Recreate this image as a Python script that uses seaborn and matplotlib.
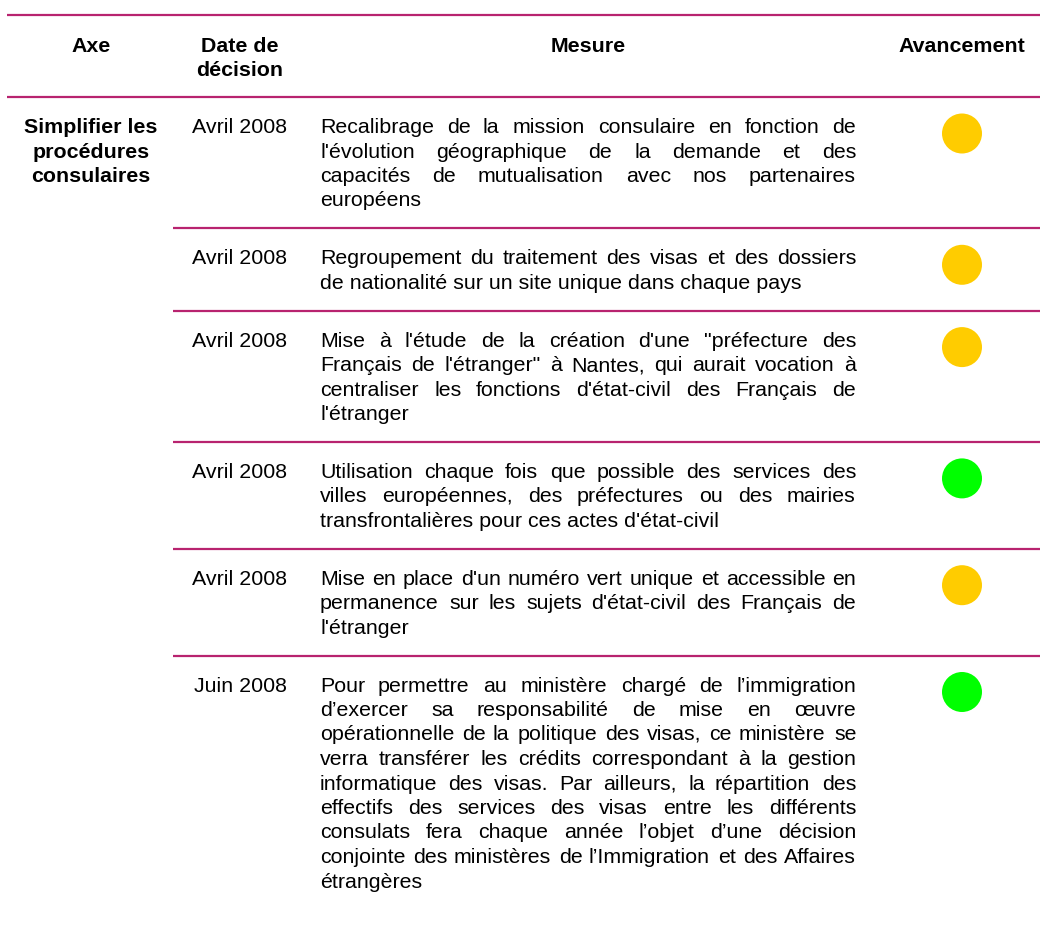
import matplotlib
matplotlib.use("Agg")
import matplotlib.pyplot as plt
import seaborn as sns
import pandas as pd

# ---------------- data ----------------
headers = ["Axe", "Date de\ndécision", "Mesure", "Avancement"]
axe_lines = ["Simplifier les", "procédures", "consulaires"]
dates = ["Avril 2008", "Avril 2008", "Avril 2008", "Avril 2008", "Avril 2008", "Juin 2008"]
measures = [
    ["Recalibrage de la mission consulaire en fonction de",
     "l'évolution géographique de la demande et des",
     "capacités de mutualisation avec nos partenaires",
     "européens"],
    ["Regroupement du traitement des visas et des dossiers",
     "de nationalité sur un site unique dans chaque pays"],
    ["Mise à l'étude de la création d'une \"préfecture des",
     "Français de l'étranger\" à Nantes, qui aurait vocation à",
     "centraliser les fonctions d'état-civil des Français de",
     "l'étranger"],
    ["Utilisation chaque fois que possible des services des",
     "villes européennes, des préfectures ou des mairies",
     "transfrontalières pour ces actes d'état-civil"],
    ["Mise en place d'un numéro vert unique et accessible en",
     "permanence sur les sujets d'état-civil des Français de",
     "l'étranger"],
    ["Pour permettre au ministère chargé de l’immigration",
     "d’exercer sa responsabilité de mise en œuvre",
     "opérationnelle de la politique des visas, ce ministère se",
     "verra transférer les crédits correspondant à la gestion",
     "informatique des visas. Par ailleurs, la répartition des",
     "effectifs des services des visas entre les différents",
     "consulats fera chaque année l’objet d’une décision",
     "conjointe des ministères de l’Immigration et des Affaires",
     "étrangères"],
]
status = ["En cours", "En cours", "En cours", "Réalisé", "En cours", "Réalisé"]
status_colors = {"En cours": "#FFCC00", "Réalisé": "#00FF00"}

# ---------------- style ----------------
sns.set_theme(style="white")
plt.rcParams["font.family"] = ["Liberation Sans", "DejaVu Sans"]
plt.rcParams["text.color"] = "black"

W, H = 1040, 940
fig = plt.figure(figsize=(W / 100, H / 100), dpi=100)
ax = fig.add_axes([0, 0, 1, 1])
ax.set_xlim(0, W)
ax.set_ylim(H, 0)
ax.axis("off")

FS = 15.4
TXT = "#000000"
LINE_COLOR = "#B8236F"
LH = 24.5
TOP_PAD = 29
BOT_PAD = 28.8
BASE_OFF = 7

col_axe, col_date, col_mes_l, col_mes_r, col_av = 91, 240, 320, 856, 962
header_top, header_bot = 15, 97

renderer = fig.canvas.get_renderer()

# header lines
ax.hlines([header_top, header_bot], 7, W, color=LINE_COLOR, lw=1.6)

# headers
hdr_y = 45 + BASE_OFF
ax.text(col_axe, hdr_y, headers[0], ha="center", va="baseline", fontsize=FS, fontweight="bold", color=TXT)
for k, part in enumerate(headers[1].split("\n")):
    ax.text(col_date, round(hdr_y + k * 23.5), part, ha="center", va="baseline", fontsize=FS,
            fontweight="bold", color=TXT)
ax.text((col_mes_l + col_mes_r) / 2, hdr_y, headers[2], ha="center", va="baseline", fontsize=FS,
        fontweight="bold", color=TXT)
ax.text(col_av, hdr_y, headers[3], ha="center", va="baseline", fontsize=FS, fontweight="bold", color=TXT)


def justified_line(y, line):
    words = line.split(" ")
    arts = [ax.text(0, y, w, ha="left", va="baseline", fontsize=FS, color=TXT) for w in words]
    widths = [a.get_window_extent(renderer).width for a in arts]
    gap = (col_mes_r - col_mes_l - sum(widths)) / max(len(words) - 1, 1)
    x = col_mes_l
    for a, w in zip(arts, widths):
        a.set_x(round(x))
        x += w + gap


# rows
row_top = header_bot
circle_rows = []
for i, (d, lines) in enumerate(zip(dates, measures)):
    first = row_top + TOP_PAD + BASE_OFF
    if i == 0:
        for k, t in enumerate(axe_lines):
            ax.text(col_axe, round(first + k * LH), t, ha="center", va="baseline",
                    fontsize=FS, fontweight="bold", color=TXT)
    ax.text(col_date, round(first), d, ha="center", va="baseline", fontsize=FS, color=TXT)
    for k, line in enumerate(lines):
        y = round(first + k * LH)
        if k < len(lines) - 1:
            justified_line(y, line)
        else:
            ax.text(col_mes_l, y, line, ha="left", va="baseline", fontsize=FS, color=TXT)
    circle_rows.append({"x": col_av, "y": row_top + 36.5, "status": status[i]})
    row_bot = row_top + TOP_PAD + (len(lines) - 1) * LH + BOT_PAD
    if i < len(dates) - 1:
        ax.hlines(row_bot, 173, W, color=LINE_COLOR, lw=1.6)
    row_top = row_bot

df = pd.DataFrame(circle_rows)
sns.scatterplot(data=df, x="x", y="y", hue="status", palette=status_colors,
                s=(40 * 0.72) ** 2, edgecolor="none", linewidth=0, legend=False, ax=ax)
ax.set_xlim(0, W)
ax.set_ylim(H, 0)
ax.axis("off")

fig.savefig("out.png", dpi=100, facecolor="white")
